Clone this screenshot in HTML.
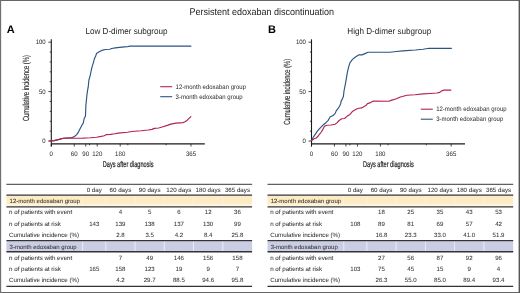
<!DOCTYPE html>
<html><head><meta charset="utf-8"><title>Persistent edoxaban discontinuation</title>
<style>
html,body{margin:0;padding:0;background:#fff;}
body{width:520px;height:293px;overflow:hidden;position:relative;font-family:"Liberation Sans",sans-serif;}
svg{position:absolute;left:0;top:0;display:block;will-change:transform;}
svg text{font-family:"Liberation Sans",sans-serif;}
</style></head>
<body>
<svg width="520" height="293" viewBox="0 0 520 293" text-rendering="geometricPrecision">
<rect x="0" y="0" width="520" height="293" fill="#fff"/>
<line x1="0" y1="0.5" x2="520" y2="0.5" stroke="#666" stroke-width="1.1"/><line x1="0" y1="292.5" x2="520" y2="292.5" stroke="#666" stroke-width="1.1"/><line x1="0.55" y1="0" x2="0.55" y2="293" stroke="#707070" stroke-width="1.2"/><line x1="519.3" y1="0" x2="519.3" y2="293" stroke="#555" stroke-width="1.4"/>
<text x="261.80" y="14.90" font-size="9.72" fill="#222" text-anchor="middle" textLength="144.60" lengthAdjust="spacingAndGlyphs" >Persistent edoxaban discontinuation</text>
<text x="6.80" y="32.60" font-size="11.00" fill="#000" font-weight="bold" >A</text>
<text x="85.40" y="33.80" font-size="8.64" fill="#262626" textLength="82.14" lengthAdjust="spacingAndGlyphs" >Low D-dimer subgroup</text>
<line x1="51.3" y1="39.3" x2="51.3" y2="146.5" stroke="#1a1a1a" stroke-width="1.1"/>
<line x1="51.3" y1="143.8" x2="204.8" y2="143.8" stroke="#1a1a1a" stroke-width="1.2"/>
<line x1="48.3" y1="141.00" x2="51.3" y2="141.00" stroke="#1a1a1a" stroke-width="0.8"/>
<line x1="49.699999999999996" y1="131.12" x2="51.3" y2="131.12" stroke="#1a1a1a" stroke-width="0.8"/>
<line x1="49.699999999999996" y1="121.24" x2="51.3" y2="121.24" stroke="#1a1a1a" stroke-width="0.8"/>
<line x1="49.699999999999996" y1="111.36" x2="51.3" y2="111.36" stroke="#1a1a1a" stroke-width="0.8"/>
<line x1="49.699999999999996" y1="101.48" x2="51.3" y2="101.48" stroke="#1a1a1a" stroke-width="0.8"/>
<line x1="48.3" y1="91.60" x2="51.3" y2="91.60" stroke="#1a1a1a" stroke-width="0.8"/>
<line x1="49.699999999999996" y1="81.72" x2="51.3" y2="81.72" stroke="#1a1a1a" stroke-width="0.8"/>
<line x1="49.699999999999996" y1="71.84" x2="51.3" y2="71.84" stroke="#1a1a1a" stroke-width="0.8"/>
<line x1="49.699999999999996" y1="61.96" x2="51.3" y2="61.96" stroke="#1a1a1a" stroke-width="0.8"/>
<line x1="49.699999999999996" y1="52.08" x2="51.3" y2="52.08" stroke="#1a1a1a" stroke-width="0.8"/>
<line x1="48.3" y1="42.20" x2="51.3" y2="42.20" stroke="#1a1a1a" stroke-width="0.8"/>
<text x="45.70" y="44.40" font-size="6.48" fill="#262626" text-anchor="end" textLength="10.01" lengthAdjust="spacingAndGlyphs" >100</text>
<text x="45.70" y="93.80" font-size="6.48" fill="#262626" text-anchor="end" textLength="6.67" lengthAdjust="spacingAndGlyphs" >50</text>
<text x="45.70" y="143.20" font-size="6.48" fill="#262626" text-anchor="end" textLength="3.34" lengthAdjust="spacingAndGlyphs" >0</text>
<line x1="51.30" y1="143.8" x2="51.30" y2="146.5" stroke="#1a1a1a" stroke-width="0.8"/>
<text x="51.30" y="155.70" font-size="6.59" fill="#262626" text-anchor="middle" textLength="3.39" lengthAdjust="spacingAndGlyphs" >0</text>
<line x1="74.26" y1="143.8" x2="74.26" y2="146.5" stroke="#1a1a1a" stroke-width="0.8"/>
<text x="74.26" y="155.70" font-size="6.59" fill="#262626" text-anchor="middle" textLength="6.79" lengthAdjust="spacingAndGlyphs" >60</text>
<line x1="85.74" y1="143.8" x2="85.74" y2="146.5" stroke="#1a1a1a" stroke-width="0.8"/>
<text x="85.74" y="155.70" font-size="6.59" fill="#262626" text-anchor="middle" textLength="6.79" lengthAdjust="spacingAndGlyphs" >90</text>
<line x1="97.22" y1="143.8" x2="97.22" y2="146.5" stroke="#1a1a1a" stroke-width="0.8"/>
<text x="97.22" y="155.70" font-size="6.59" fill="#262626" text-anchor="middle" textLength="10.18" lengthAdjust="spacingAndGlyphs" >120</text>
<line x1="120.19" y1="143.8" x2="120.19" y2="146.5" stroke="#1a1a1a" stroke-width="0.8"/>
<text x="120.19" y="155.70" font-size="6.59" fill="#262626" text-anchor="middle" textLength="10.18" lengthAdjust="spacingAndGlyphs" >180</text>
<line x1="190.99" y1="143.8" x2="190.99" y2="146.5" stroke="#1a1a1a" stroke-width="0.8"/>
<text x="190.99" y="155.70" font-size="6.59" fill="#262626" text-anchor="middle" textLength="10.18" lengthAdjust="spacingAndGlyphs" >365</text>
<line x1="89.57" y1="143.8" x2="89.57" y2="145.3" stroke="#1a1a1a" stroke-width="0.8"/>
<line x1="127.84" y1="143.8" x2="127.84" y2="145.3" stroke="#1a1a1a" stroke-width="0.8"/>
<line x1="166.11" y1="143.8" x2="166.11" y2="145.3" stroke="#1a1a1a" stroke-width="0.8"/>
<text x="102.80" y="166.90" font-size="8.40" fill="#262626" textLength="50.70" lengthAdjust="spacingAndGlyphs" stroke="#262626" stroke-width="0.22">Days after diagnosis</text>
<g transform="translate(29.0,88.1) rotate(-90)"><text x="0.00" y="0.00" font-size="8.90" fill="#262626" text-anchor="middle" textLength="66.00" lengthAdjust="spacingAndGlyphs" stroke="#262626" stroke-width="0.1">Cumulative incidence (%)</text></g>
<polyline points="51.3,141.0 54.2,140.6 59.1,139.4 63.4,138.2 71.4,137.7 72.5,137.4 75.1,136.0 76.7,134.6 78.7,131.6 80.2,128.5 81.8,125.5 83.3,122.9 83.8,120.4 84.3,118.3 85.4,116.3 85.6,113.2 85.9,105.0 86.4,100.5 87.0,94.3 87.7,89.7 88.2,87.2 88.9,80.0 90.2,75.6 91.2,70.5 92.2,66.4 93.3,62.8 94.3,59.2 94.8,57.7 95.6,56.4 96.5,53.5 98.7,52.0 101.8,50.4 105.4,49.5 109.8,49.2 111.6,48.5 115.3,47.9 119.6,47.4 124.5,46.9 127.3,46.7 129.9,46.1 191.0,46.1" fill="none" stroke="#2c5482" stroke-width="1.15" stroke-linejoin="round" stroke-linecap="round"/>
<polyline points="49.2,141.0 54.2,140.6 59.1,139.4 63.4,138.3 71.4,137.9 75.0,138.2 82.7,138.1 90.4,137.7 96.5,137.2 101.2,136.4 104.2,135.8 106.5,134.6 110.4,134.4 115.0,133.8 118.2,133.1 127.4,132.3 132.0,131.5 141.2,130.8 148.2,130.0 152.0,129.4 154.3,128.4 158.7,128.0 163.0,126.7 167.3,125.4 170.8,124.1 176.0,123.1 182.9,122.6 184.6,122.0 187.2,120.2 190.9,116.6" fill="none" stroke="#b32350" stroke-width="1.15" stroke-linejoin="round" stroke-linecap="round"/>
<line x1="160.2" y1="86.7" x2="172.2" y2="86.7" stroke="#b32350" stroke-width="1.1"/>
<line x1="160.2" y1="96.7" x2="172.2" y2="96.7" stroke="#2c5482" stroke-width="1.1"/>
<text x="175.60" y="88.90" font-size="6.48" fill="#262626" textLength="70.39" lengthAdjust="spacingAndGlyphs" >12-month edoxaban group</text>
<text x="175.60" y="98.90" font-size="6.48" fill="#262626" textLength="67.05" lengthAdjust="spacingAndGlyphs" >3-month edoxaban group</text>
<text x="268.00" y="32.60" font-size="11.00" fill="#000" font-weight="bold" >B</text>
<text x="347.30" y="33.80" font-size="8.64" fill="#262626" textLength="83.95" lengthAdjust="spacingAndGlyphs" >High D-dimer subgroup</text>
<line x1="311.5" y1="39.3" x2="311.5" y2="146.5" stroke="#1a1a1a" stroke-width="1.1"/>
<line x1="311.5" y1="143.8" x2="465.0" y2="143.8" stroke="#1a1a1a" stroke-width="1.2"/>
<line x1="308.5" y1="141.00" x2="311.5" y2="141.00" stroke="#1a1a1a" stroke-width="0.8"/>
<line x1="309.9" y1="131.12" x2="311.5" y2="131.12" stroke="#1a1a1a" stroke-width="0.8"/>
<line x1="309.9" y1="121.24" x2="311.5" y2="121.24" stroke="#1a1a1a" stroke-width="0.8"/>
<line x1="309.9" y1="111.36" x2="311.5" y2="111.36" stroke="#1a1a1a" stroke-width="0.8"/>
<line x1="309.9" y1="101.48" x2="311.5" y2="101.48" stroke="#1a1a1a" stroke-width="0.8"/>
<line x1="308.5" y1="91.60" x2="311.5" y2="91.60" stroke="#1a1a1a" stroke-width="0.8"/>
<line x1="309.9" y1="81.72" x2="311.5" y2="81.72" stroke="#1a1a1a" stroke-width="0.8"/>
<line x1="309.9" y1="71.84" x2="311.5" y2="71.84" stroke="#1a1a1a" stroke-width="0.8"/>
<line x1="309.9" y1="61.96" x2="311.5" y2="61.96" stroke="#1a1a1a" stroke-width="0.8"/>
<line x1="309.9" y1="52.08" x2="311.5" y2="52.08" stroke="#1a1a1a" stroke-width="0.8"/>
<line x1="308.5" y1="42.20" x2="311.5" y2="42.20" stroke="#1a1a1a" stroke-width="0.8"/>
<text x="305.90" y="44.40" font-size="6.48" fill="#262626" text-anchor="end" textLength="10.01" lengthAdjust="spacingAndGlyphs" >100</text>
<text x="305.90" y="93.80" font-size="6.48" fill="#262626" text-anchor="end" textLength="6.67" lengthAdjust="spacingAndGlyphs" >50</text>
<text x="305.90" y="143.20" font-size="6.48" fill="#262626" text-anchor="end" textLength="3.34" lengthAdjust="spacingAndGlyphs" >0</text>
<line x1="311.50" y1="143.8" x2="311.50" y2="146.5" stroke="#1a1a1a" stroke-width="0.8"/>
<text x="311.50" y="155.70" font-size="6.59" fill="#262626" text-anchor="middle" textLength="3.39" lengthAdjust="spacingAndGlyphs" >0</text>
<line x1="334.46" y1="143.8" x2="334.46" y2="146.5" stroke="#1a1a1a" stroke-width="0.8"/>
<text x="334.46" y="155.70" font-size="6.59" fill="#262626" text-anchor="middle" textLength="6.79" lengthAdjust="spacingAndGlyphs" >60</text>
<line x1="345.94" y1="143.8" x2="345.94" y2="146.5" stroke="#1a1a1a" stroke-width="0.8"/>
<text x="345.94" y="155.70" font-size="6.59" fill="#262626" text-anchor="middle" textLength="6.79" lengthAdjust="spacingAndGlyphs" >90</text>
<line x1="357.42" y1="143.8" x2="357.42" y2="146.5" stroke="#1a1a1a" stroke-width="0.8"/>
<text x="357.42" y="155.70" font-size="6.59" fill="#262626" text-anchor="middle" textLength="10.18" lengthAdjust="spacingAndGlyphs" >120</text>
<line x1="380.39" y1="143.8" x2="380.39" y2="146.5" stroke="#1a1a1a" stroke-width="0.8"/>
<text x="380.39" y="155.70" font-size="6.59" fill="#262626" text-anchor="middle" textLength="10.18" lengthAdjust="spacingAndGlyphs" >180</text>
<line x1="451.19" y1="143.8" x2="451.19" y2="146.5" stroke="#1a1a1a" stroke-width="0.8"/>
<text x="451.19" y="155.70" font-size="6.59" fill="#262626" text-anchor="middle" textLength="10.18" lengthAdjust="spacingAndGlyphs" >365</text>
<line x1="349.77" y1="143.8" x2="349.77" y2="145.3" stroke="#1a1a1a" stroke-width="0.8"/>
<line x1="388.04" y1="143.8" x2="388.04" y2="145.3" stroke="#1a1a1a" stroke-width="0.8"/>
<line x1="426.31" y1="143.8" x2="426.31" y2="145.3" stroke="#1a1a1a" stroke-width="0.8"/>
<text x="363.00" y="166.90" font-size="8.40" fill="#262626" textLength="50.70" lengthAdjust="spacingAndGlyphs" stroke="#262626" stroke-width="0.22">Days after diagnosis</text>
<g transform="translate(289.6,91.8) rotate(-90)"><text x="0.00" y="0.00" font-size="8.90" fill="#262626" text-anchor="middle" textLength="66.00" lengthAdjust="spacingAndGlyphs" stroke="#262626" stroke-width="0.1">Cumulative incidence (%)</text></g>
<polyline points="311.6,140.6 313.1,137.5 315.2,134.4 317.2,131.4 319.3,128.8 321.3,126.8 323.4,124.7 325.9,122.7 328.0,120.6 329.5,118.0 330.0,117.0 333.1,115.5 335.2,113.4 336.2,110.9 338.2,108.3 339.8,105.7 340.8,103.2 341.1,101.1 342.3,99.1 343.4,96.5 344.0,91.0 345.7,82.4 347.4,72.2 348.6,67.1 349.9,62.8 352.5,59.4 355.1,57.2 358.6,54.9 361.9,54.9 365.0,53.6 368.1,52.3 390.0,52.2 396.3,51.5 402.7,50.9 415.4,50.0 423.0,49.2 429.3,48.3 451.4,48.3" fill="none" stroke="#2c5482" stroke-width="1.15" stroke-linejoin="round" stroke-linecap="round"/>
<polyline points="311.6,140.6 314.1,138.7 316.2,138.0 318.2,136.0 319.8,133.9 321.3,132.0 322.8,129.6 324.4,126.3 326.8,125.3 330.9,125.0 335.0,124.3 337.0,122.9 339.1,120.5 341.8,118.8 344.5,118.5 347.3,116.1 350.0,114.4 352.3,111.6 356.5,109.0 358.8,108.2 361.7,107.9 365.8,105.6 367.5,103.6 369.8,102.9 373.3,101.0 388.8,101.2 391.1,100.4 395.7,99.0 400.4,97.0 406.9,95.3 415.0,94.7 423.1,93.9 430.0,93.5 436.9,93.0 439.8,92.4 441.5,91.0 443.8,90.1 450.9,90.1" fill="none" stroke="#b32350" stroke-width="1.15" stroke-linejoin="round" stroke-linecap="round"/>
<line x1="420.8" y1="109.2" x2="432.8" y2="109.2" stroke="#b32350" stroke-width="1.1"/>
<line x1="420.8" y1="119.2" x2="432.8" y2="119.2" stroke="#2c5482" stroke-width="1.1"/>
<text x="436.20" y="111.40" font-size="6.48" fill="#262626" textLength="70.39" lengthAdjust="spacingAndGlyphs" >12-month edoxaban group</text>
<text x="436.20" y="121.40" font-size="6.48" fill="#262626" textLength="67.05" lengthAdjust="spacingAndGlyphs" >3-month edoxaban group</text>
<rect x="6.4" y="195.6" width="245.7" height="9.0" fill="#fdebc6"/>
<rect x="6.4" y="204.6" width="245.7" height="1.6" fill="#fdf5dd"/>
<rect x="6.4" y="241.2" width="245.7" height="10.0" fill="#cacde4"/>
<line x1="82.7" y1="195.6" x2="82.7" y2="204.6" stroke="#fff" stroke-width="0.6" opacity="0.6"/>
<line x1="82.7" y1="241.2" x2="82.7" y2="251.2" stroke="#fff" stroke-width="0.8" opacity="0.8"/>
<line x1="105.8" y1="195.6" x2="105.8" y2="204.6" stroke="#fff" stroke-width="0.6" opacity="0.6"/>
<line x1="105.8" y1="241.2" x2="105.8" y2="251.2" stroke="#fff" stroke-width="0.8" opacity="0.8"/>
<line x1="135.0" y1="195.6" x2="135.0" y2="204.6" stroke="#fff" stroke-width="0.6" opacity="0.6"/>
<line x1="135.0" y1="241.2" x2="135.0" y2="251.2" stroke="#fff" stroke-width="0.8" opacity="0.8"/>
<line x1="164.3" y1="195.6" x2="164.3" y2="204.6" stroke="#fff" stroke-width="0.6" opacity="0.6"/>
<line x1="164.3" y1="241.2" x2="164.3" y2="251.2" stroke="#fff" stroke-width="0.8" opacity="0.8"/>
<line x1="193.5" y1="195.6" x2="193.5" y2="204.6" stroke="#fff" stroke-width="0.6" opacity="0.6"/>
<line x1="193.5" y1="241.2" x2="193.5" y2="251.2" stroke="#fff" stroke-width="0.8" opacity="0.8"/>
<line x1="222.8" y1="195.6" x2="222.8" y2="204.6" stroke="#fff" stroke-width="0.6" opacity="0.6"/>
<line x1="222.8" y1="241.2" x2="222.8" y2="251.2" stroke="#fff" stroke-width="0.8" opacity="0.8"/>
<line x1="6.4" y1="184.4" x2="252.1" y2="184.4" stroke="#606060" stroke-width="1.1"/>
<line x1="6.4" y1="195.1" x2="252.1" y2="195.1" stroke="#333" stroke-width="1.2"/>
<line x1="6.4" y1="206.8" x2="252.1" y2="206.8" stroke="#333" stroke-width="1.3"/>
<line x1="6.4" y1="240.7" x2="252.1" y2="240.7" stroke="#333" stroke-width="1.3"/>
<line x1="6.4" y1="251.75" x2="252.1" y2="251.75" stroke="#333" stroke-width="1.3"/>
<line x1="6.4" y1="286.4" x2="252.1" y2="286.4" stroke="#333" stroke-width="1.2"/>
<text x="94.25" y="191.80" font-size="6.20" fill="#363636" text-anchor="middle"  stroke="#363636" stroke-width="0.05">0 day</text>
<text x="120.40" y="191.80" font-size="6.20" fill="#363636" text-anchor="middle"  stroke="#363636" stroke-width="0.05">60 days</text>
<text x="149.65" y="191.80" font-size="6.20" fill="#363636" text-anchor="middle"  stroke="#363636" stroke-width="0.05">90 days</text>
<text x="178.90" y="191.80" font-size="6.20" fill="#363636" text-anchor="middle"  stroke="#363636" stroke-width="0.05">120 days</text>
<text x="208.15" y="191.80" font-size="6.20" fill="#363636" text-anchor="middle"  stroke="#363636" stroke-width="0.05">180 days</text>
<text x="237.45" y="191.80" font-size="6.20" fill="#363636" text-anchor="middle"  stroke="#363636" stroke-width="0.05">365 days</text>
<text x="9.60" y="203.20" font-size="6.00" fill="#363636"  stroke="#363636" stroke-width="0.05">12-month edoxaban group</text>
<text x="9.60" y="248.50" font-size="6.00" fill="#363636"  stroke="#363636" stroke-width="0.05">3-month edoxaban group</text>
<text x="9.10" y="214.40" font-size="6.18" fill="#363636"  stroke="#363636" stroke-width="0.05">n of patients with event</text>
<text x="120.40" y="214.40" font-size="6.10" fill="#363636" text-anchor="middle"  stroke="#363636" stroke-width="0.05">4</text>
<text x="149.65" y="214.40" font-size="6.10" fill="#363636" text-anchor="middle"  stroke="#363636" stroke-width="0.05">5</text>
<text x="178.90" y="214.40" font-size="6.10" fill="#363636" text-anchor="middle"  stroke="#363636" stroke-width="0.05">6</text>
<text x="208.15" y="214.40" font-size="6.10" fill="#363636" text-anchor="middle"  stroke="#363636" stroke-width="0.05">12</text>
<text x="237.45" y="214.40" font-size="6.10" fill="#363636" text-anchor="middle"  stroke="#363636" stroke-width="0.05">36</text>
<text x="9.10" y="225.70" font-size="6.18" fill="#363636"  stroke="#363636" stroke-width="0.05">n of patients at risk</text>
<text x="94.25" y="225.70" font-size="6.10" fill="#363636" text-anchor="middle"  stroke="#363636" stroke-width="0.05">143</text>
<text x="120.40" y="225.70" font-size="6.10" fill="#363636" text-anchor="middle"  stroke="#363636" stroke-width="0.05">139</text>
<text x="149.65" y="225.70" font-size="6.10" fill="#363636" text-anchor="middle"  stroke="#363636" stroke-width="0.05">138</text>
<text x="178.90" y="225.70" font-size="6.10" fill="#363636" text-anchor="middle"  stroke="#363636" stroke-width="0.05">137</text>
<text x="208.15" y="225.70" font-size="6.10" fill="#363636" text-anchor="middle"  stroke="#363636" stroke-width="0.05">130</text>
<text x="237.45" y="225.70" font-size="6.10" fill="#363636" text-anchor="middle"  stroke="#363636" stroke-width="0.05">99</text>
<text x="9.10" y="237.00" font-size="6.18" fill="#363636"  stroke="#363636" stroke-width="0.05">Cumulative incidence (%)</text>
<text x="120.40" y="237.00" font-size="6.10" fill="#363636" text-anchor="middle"  stroke="#363636" stroke-width="0.05">2.8</text>
<text x="149.65" y="237.00" font-size="6.10" fill="#363636" text-anchor="middle"  stroke="#363636" stroke-width="0.05">3.5</text>
<text x="178.90" y="237.00" font-size="6.10" fill="#363636" text-anchor="middle"  stroke="#363636" stroke-width="0.05">4.2</text>
<text x="208.15" y="237.00" font-size="6.10" fill="#363636" text-anchor="middle"  stroke="#363636" stroke-width="0.05">8.4</text>
<text x="237.45" y="237.00" font-size="6.10" fill="#363636" text-anchor="middle"  stroke="#363636" stroke-width="0.05">25.8</text>
<text x="9.10" y="259.80" font-size="6.18" fill="#363636"  stroke="#363636" stroke-width="0.05">n of patients with event</text>
<text x="120.40" y="259.80" font-size="6.10" fill="#363636" text-anchor="middle"  stroke="#363636" stroke-width="0.05">7</text>
<text x="149.65" y="259.80" font-size="6.10" fill="#363636" text-anchor="middle"  stroke="#363636" stroke-width="0.05">49</text>
<text x="178.90" y="259.80" font-size="6.10" fill="#363636" text-anchor="middle"  stroke="#363636" stroke-width="0.05">146</text>
<text x="208.15" y="259.80" font-size="6.10" fill="#363636" text-anchor="middle"  stroke="#363636" stroke-width="0.05">156</text>
<text x="237.45" y="259.80" font-size="6.10" fill="#363636" text-anchor="middle"  stroke="#363636" stroke-width="0.05">158</text>
<text x="9.10" y="271.10" font-size="6.18" fill="#363636"  stroke="#363636" stroke-width="0.05">n of patients at risk</text>
<text x="94.25" y="271.10" font-size="6.10" fill="#363636" text-anchor="middle"  stroke="#363636" stroke-width="0.05">165</text>
<text x="120.40" y="271.10" font-size="6.10" fill="#363636" text-anchor="middle"  stroke="#363636" stroke-width="0.05">158</text>
<text x="149.65" y="271.10" font-size="6.10" fill="#363636" text-anchor="middle"  stroke="#363636" stroke-width="0.05">123</text>
<text x="178.90" y="271.10" font-size="6.10" fill="#363636" text-anchor="middle"  stroke="#363636" stroke-width="0.05">19</text>
<text x="208.15" y="271.10" font-size="6.10" fill="#363636" text-anchor="middle"  stroke="#363636" stroke-width="0.05">9</text>
<text x="237.45" y="271.10" font-size="6.10" fill="#363636" text-anchor="middle"  stroke="#363636" stroke-width="0.05">7</text>
<text x="9.10" y="282.40" font-size="6.18" fill="#363636"  stroke="#363636" stroke-width="0.05">Cumulative incidence (%)</text>
<text x="120.40" y="282.40" font-size="6.10" fill="#363636" text-anchor="middle"  stroke="#363636" stroke-width="0.05">4.2</text>
<text x="149.65" y="282.40" font-size="6.10" fill="#363636" text-anchor="middle"  stroke="#363636" stroke-width="0.05">29.7</text>
<text x="178.90" y="282.40" font-size="6.10" fill="#363636" text-anchor="middle"  stroke="#363636" stroke-width="0.05">88.5</text>
<text x="208.15" y="282.40" font-size="6.10" fill="#363636" text-anchor="middle"  stroke="#363636" stroke-width="0.05">94.6</text>
<text x="237.45" y="282.40" font-size="6.10" fill="#363636" text-anchor="middle"  stroke="#363636" stroke-width="0.05">95.8</text>
<rect x="267.5" y="195.6" width="245.7" height="9.0" fill="#fdebc6"/>
<rect x="267.5" y="204.6" width="245.7" height="1.6" fill="#fdf5dd"/>
<rect x="267.5" y="241.2" width="245.7" height="10.0" fill="#cacde4"/>
<line x1="343.8" y1="195.6" x2="343.8" y2="204.6" stroke="#fff" stroke-width="0.6" opacity="0.6"/>
<line x1="343.8" y1="241.2" x2="343.8" y2="251.2" stroke="#fff" stroke-width="0.8" opacity="0.8"/>
<line x1="366.9" y1="195.6" x2="366.9" y2="204.6" stroke="#fff" stroke-width="0.6" opacity="0.6"/>
<line x1="366.9" y1="241.2" x2="366.9" y2="251.2" stroke="#fff" stroke-width="0.8" opacity="0.8"/>
<line x1="396.1" y1="195.6" x2="396.1" y2="204.6" stroke="#fff" stroke-width="0.6" opacity="0.6"/>
<line x1="396.1" y1="241.2" x2="396.1" y2="251.2" stroke="#fff" stroke-width="0.8" opacity="0.8"/>
<line x1="425.4" y1="195.6" x2="425.4" y2="204.6" stroke="#fff" stroke-width="0.6" opacity="0.6"/>
<line x1="425.4" y1="241.2" x2="425.4" y2="251.2" stroke="#fff" stroke-width="0.8" opacity="0.8"/>
<line x1="454.6" y1="195.6" x2="454.6" y2="204.6" stroke="#fff" stroke-width="0.6" opacity="0.6"/>
<line x1="454.6" y1="241.2" x2="454.6" y2="251.2" stroke="#fff" stroke-width="0.8" opacity="0.8"/>
<line x1="483.9" y1="195.6" x2="483.9" y2="204.6" stroke="#fff" stroke-width="0.6" opacity="0.6"/>
<line x1="483.9" y1="241.2" x2="483.9" y2="251.2" stroke="#fff" stroke-width="0.8" opacity="0.8"/>
<line x1="267.5" y1="184.4" x2="513.2" y2="184.4" stroke="#606060" stroke-width="1.1"/>
<line x1="267.5" y1="195.1" x2="513.2" y2="195.1" stroke="#333" stroke-width="1.2"/>
<line x1="267.5" y1="206.8" x2="513.2" y2="206.8" stroke="#333" stroke-width="1.3"/>
<line x1="267.5" y1="240.7" x2="513.2" y2="240.7" stroke="#333" stroke-width="1.3"/>
<line x1="267.5" y1="251.75" x2="513.2" y2="251.75" stroke="#333" stroke-width="1.3"/>
<line x1="267.5" y1="286.4" x2="513.2" y2="286.4" stroke="#333" stroke-width="1.2"/>
<text x="355.35" y="191.80" font-size="6.20" fill="#363636" text-anchor="middle"  stroke="#363636" stroke-width="0.05">0 day</text>
<text x="381.50" y="191.80" font-size="6.20" fill="#363636" text-anchor="middle"  stroke="#363636" stroke-width="0.05">60 days</text>
<text x="410.75" y="191.80" font-size="6.20" fill="#363636" text-anchor="middle"  stroke="#363636" stroke-width="0.05">90 days</text>
<text x="440.00" y="191.80" font-size="6.20" fill="#363636" text-anchor="middle"  stroke="#363636" stroke-width="0.05">120 days</text>
<text x="469.25" y="191.80" font-size="6.20" fill="#363636" text-anchor="middle"  stroke="#363636" stroke-width="0.05">180 days</text>
<text x="498.55" y="191.80" font-size="6.20" fill="#363636" text-anchor="middle"  stroke="#363636" stroke-width="0.05">365 days</text>
<text x="270.70" y="203.20" font-size="6.00" fill="#363636"  stroke="#363636" stroke-width="0.05">12-month edoxaban group</text>
<text x="270.70" y="248.50" font-size="6.00" fill="#363636"  stroke="#363636" stroke-width="0.05">3-month edoxaban group</text>
<text x="270.20" y="214.40" font-size="6.18" fill="#363636"  stroke="#363636" stroke-width="0.05">n of patients with event</text>
<text x="381.50" y="214.40" font-size="6.10" fill="#363636" text-anchor="middle"  stroke="#363636" stroke-width="0.05">18</text>
<text x="410.75" y="214.40" font-size="6.10" fill="#363636" text-anchor="middle"  stroke="#363636" stroke-width="0.05">25</text>
<text x="440.00" y="214.40" font-size="6.10" fill="#363636" text-anchor="middle"  stroke="#363636" stroke-width="0.05">35</text>
<text x="469.25" y="214.40" font-size="6.10" fill="#363636" text-anchor="middle"  stroke="#363636" stroke-width="0.05">43</text>
<text x="498.55" y="214.40" font-size="6.10" fill="#363636" text-anchor="middle"  stroke="#363636" stroke-width="0.05">53</text>
<text x="270.20" y="225.70" font-size="6.18" fill="#363636"  stroke="#363636" stroke-width="0.05">n of patients at risk</text>
<text x="355.35" y="225.70" font-size="6.10" fill="#363636" text-anchor="middle"  stroke="#363636" stroke-width="0.05">108</text>
<text x="381.50" y="225.70" font-size="6.10" fill="#363636" text-anchor="middle"  stroke="#363636" stroke-width="0.05">89</text>
<text x="410.75" y="225.70" font-size="6.10" fill="#363636" text-anchor="middle"  stroke="#363636" stroke-width="0.05">81</text>
<text x="440.00" y="225.70" font-size="6.10" fill="#363636" text-anchor="middle"  stroke="#363636" stroke-width="0.05">69</text>
<text x="469.25" y="225.70" font-size="6.10" fill="#363636" text-anchor="middle"  stroke="#363636" stroke-width="0.05">57</text>
<text x="498.55" y="225.70" font-size="6.10" fill="#363636" text-anchor="middle"  stroke="#363636" stroke-width="0.05">42</text>
<text x="270.20" y="237.00" font-size="6.18" fill="#363636"  stroke="#363636" stroke-width="0.05">Cumulative incidence (%)</text>
<text x="381.50" y="237.00" font-size="6.10" fill="#363636" text-anchor="middle"  stroke="#363636" stroke-width="0.05">16.8</text>
<text x="410.75" y="237.00" font-size="6.10" fill="#363636" text-anchor="middle"  stroke="#363636" stroke-width="0.05">23.3</text>
<text x="440.00" y="237.00" font-size="6.10" fill="#363636" text-anchor="middle"  stroke="#363636" stroke-width="0.05">33.0</text>
<text x="469.25" y="237.00" font-size="6.10" fill="#363636" text-anchor="middle"  stroke="#363636" stroke-width="0.05">41.0</text>
<text x="498.55" y="237.00" font-size="6.10" fill="#363636" text-anchor="middle"  stroke="#363636" stroke-width="0.05">51.9</text>
<text x="270.20" y="259.80" font-size="6.18" fill="#363636"  stroke="#363636" stroke-width="0.05">n of patients with event</text>
<text x="381.50" y="259.80" font-size="6.10" fill="#363636" text-anchor="middle"  stroke="#363636" stroke-width="0.05">27</text>
<text x="410.75" y="259.80" font-size="6.10" fill="#363636" text-anchor="middle"  stroke="#363636" stroke-width="0.05">56</text>
<text x="440.00" y="259.80" font-size="6.10" fill="#363636" text-anchor="middle"  stroke="#363636" stroke-width="0.05">87</text>
<text x="469.25" y="259.80" font-size="6.10" fill="#363636" text-anchor="middle"  stroke="#363636" stroke-width="0.05">92</text>
<text x="498.55" y="259.80" font-size="6.10" fill="#363636" text-anchor="middle"  stroke="#363636" stroke-width="0.05">96</text>
<text x="270.20" y="271.10" font-size="6.18" fill="#363636"  stroke="#363636" stroke-width="0.05">n of patients at risk</text>
<text x="355.35" y="271.10" font-size="6.10" fill="#363636" text-anchor="middle"  stroke="#363636" stroke-width="0.05">103</text>
<text x="381.50" y="271.10" font-size="6.10" fill="#363636" text-anchor="middle"  stroke="#363636" stroke-width="0.05">75</text>
<text x="410.75" y="271.10" font-size="6.10" fill="#363636" text-anchor="middle"  stroke="#363636" stroke-width="0.05">45</text>
<text x="440.00" y="271.10" font-size="6.10" fill="#363636" text-anchor="middle"  stroke="#363636" stroke-width="0.05">15</text>
<text x="469.25" y="271.10" font-size="6.10" fill="#363636" text-anchor="middle"  stroke="#363636" stroke-width="0.05">9</text>
<text x="498.55" y="271.10" font-size="6.10" fill="#363636" text-anchor="middle"  stroke="#363636" stroke-width="0.05">4</text>
<text x="270.20" y="282.40" font-size="6.18" fill="#363636"  stroke="#363636" stroke-width="0.05">Cumulative incidence (%)</text>
<text x="381.50" y="282.40" font-size="6.10" fill="#363636" text-anchor="middle"  stroke="#363636" stroke-width="0.05">26.3</text>
<text x="410.75" y="282.40" font-size="6.10" fill="#363636" text-anchor="middle"  stroke="#363636" stroke-width="0.05">55.0</text>
<text x="440.00" y="282.40" font-size="6.10" fill="#363636" text-anchor="middle"  stroke="#363636" stroke-width="0.05">85.0</text>
<text x="469.25" y="282.40" font-size="6.10" fill="#363636" text-anchor="middle"  stroke="#363636" stroke-width="0.05">89.4</text>
<text x="498.55" y="282.40" font-size="6.10" fill="#363636" text-anchor="middle"  stroke="#363636" stroke-width="0.05">93.4</text>
</svg>
</body></html>
